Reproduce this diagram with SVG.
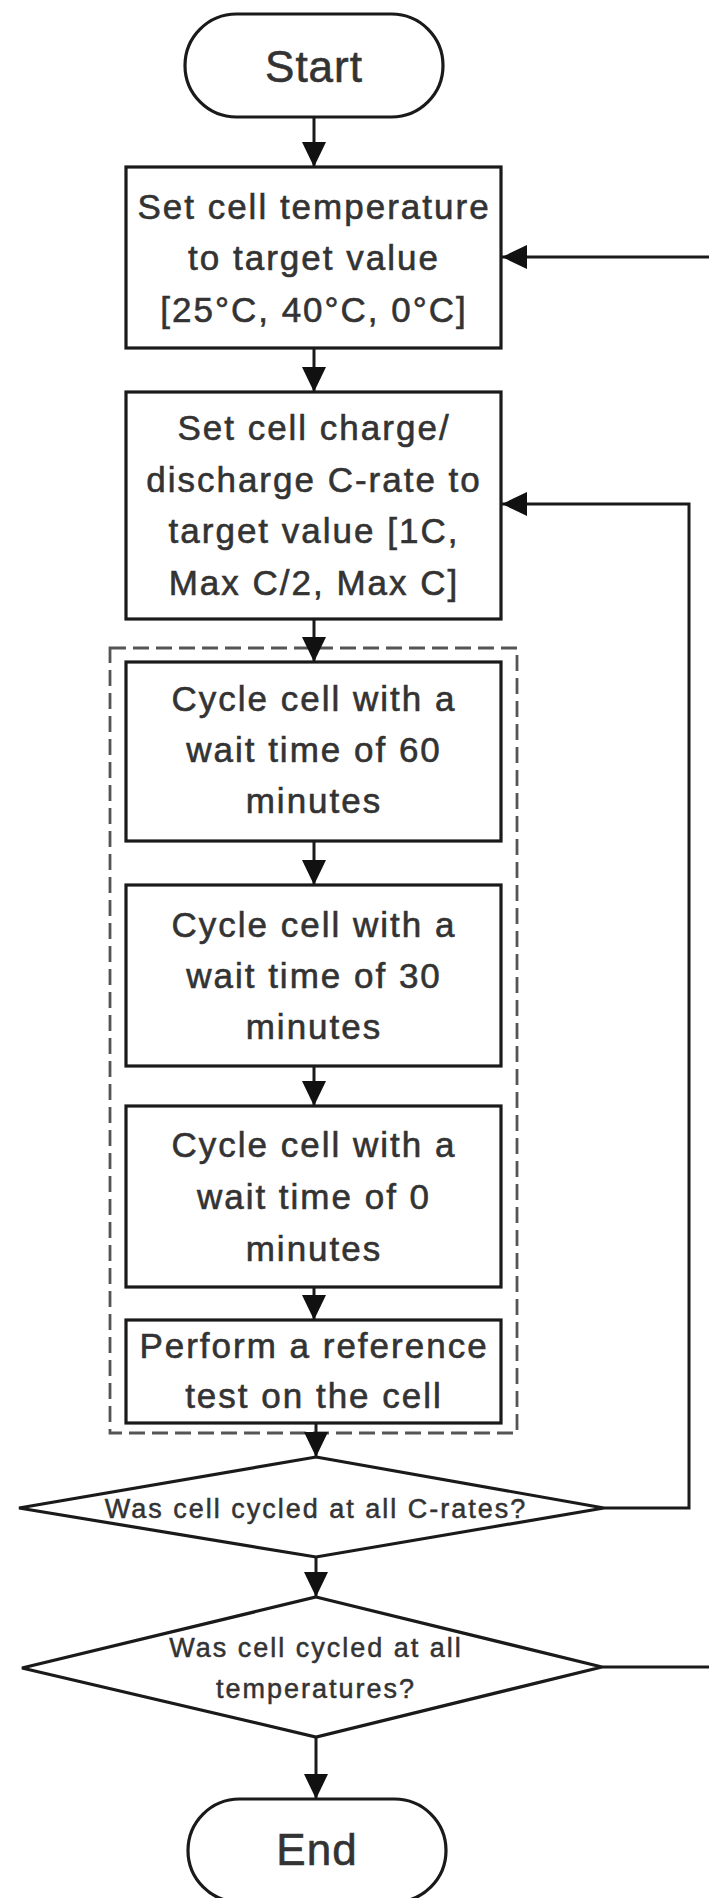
<svg xmlns="http://www.w3.org/2000/svg" width="709" height="1898" viewBox="0 0 709 1898">
<style>
.n{fill:#fff;stroke:#1a1a1a;stroke-width:3.2}
.c{fill:none;stroke:#1a1a1a;stroke-width:3}
.t{font-family:"Liberation Sans",Arial,sans-serif;font-size:35px;letter-spacing:2px;fill:#333;stroke:#333;stroke-width:0.6;text-anchor:middle}
.s{font-size:27px;letter-spacing:2px;stroke-width:0.5}
.b{font-size:44px;letter-spacing:1px}
.grp{fill:none;stroke:#555;stroke-width:2.8;stroke-dasharray:16 7}
</style>
<defs>
<marker id="ah" markerUnits="userSpaceOnUse" markerWidth="25" markerHeight="24" refX="25" refY="12" orient="auto">
<path d="M0,0 L25,12 L0,24 z" fill="#111"/>
</marker>
</defs>
<rect width="709" height="1898" fill="#fff"/>
<rect id="group-box" class="grp" x="110" y="648" width="407" height="785"/>
<g id="connectors">
<path class="c" d="M314,117 V167" marker-end="url(#ah)"/>
<path class="c" d="M314,348 V392" marker-end="url(#ah)"/>
<path class="c" d="M314,619 V662" marker-end="url(#ah)"/>
<path class="c" d="M314,841 V885" marker-end="url(#ah)"/>
<path class="c" d="M314,1066 V1106" marker-end="url(#ah)"/>
<path class="c" d="M314,1287 V1320" marker-end="url(#ah)"/>
<path class="c" d="M316,1423 V1457" marker-end="url(#ah)"/>
<path class="c" d="M316,1557 V1597" marker-end="url(#ah)"/>
<path class="c" d="M316,1737 V1799" marker-end="url(#ah)"/>
<path class="c" d="M604,1508 H689 V504 H502" marker-end="url(#ah)"/>
<path class="c" d="M602,1667 H716 V257 H502" marker-end="url(#ah)"/>
</g>
<g id="start">
<rect class="n" x="185" y="14" width="258" height="103" rx="51.5" ry="51.5"/>
<text class="t b" x="314" y="82">Start</text>
</g>
<g id="set-temp">
<rect class="n" x="126" y="167" width="375" height="181"/>
<text class="t" x="314" y="219">Set cell temperature</text>
<text class="t" x="314" y="270">to target value</text>
<text class="t" x="314" y="322">[25°C, 40°C, 0°C]</text>
</g>
<g id="set-crate">
<rect class="n" x="126" y="392" width="375" height="227"/>
<text class="t" x="314" y="440">Set cell charge/</text>
<text class="t" x="314" y="492">discharge C-rate to</text>
<text class="t" x="314" y="543">target value [1C,</text>
<text class="t" x="314" y="595">Max C/2, Max C]</text>
</g>
<g id="cycle-60">
<rect class="n" x="126" y="662" width="375" height="179"/>
<text class="t" x="314" y="711">Cycle cell with a</text>
<text class="t" x="314" y="762">wait time of 60</text>
<text class="t" x="314" y="813">minutes</text>
</g>
<g id="cycle-30">
<rect class="n" x="126" y="885" width="375" height="181"/>
<text class="t" x="314" y="937">Cycle cell with a</text>
<text class="t" x="314" y="988">wait time of 30</text>
<text class="t" x="314" y="1039">minutes</text>
</g>
<g id="cycle-0">
<rect class="n" x="126" y="1106" width="375" height="181"/>
<text class="t" x="314" y="1157">Cycle cell with a</text>
<text class="t" x="314" y="1209">wait time of 0</text>
<text class="t" x="314" y="1261">minutes</text>
</g>
<g id="reference-test">
<rect class="n" x="126" y="1320" width="375" height="103"/>
<text class="t" x="314" y="1358">Perform a reference</text>
<text class="t" x="314" y="1408">test on the cell</text>
</g>
<g id="decision-crates">
<polygon class="n" points="316,1457 604,1508 316,1557 19,1508"/>
<text class="t s" x="316" y="1518">Was cell cycled at all C-rates?</text>
</g>
<g id="decision-temps">
<polygon class="n" points="316,1597 602,1667 316,1737 22,1668"/>
<text class="t s" x="316" y="1657">Was cell cycled at all</text>
<text class="t s" x="316" y="1698">temperatures?</text>
</g>
<g id="end">
<rect class="n" x="188" y="1799" width="258" height="103" rx="51.5" ry="51.5"/>
<text class="t b" x="317" y="1865">End</text>
</g>
</svg>
